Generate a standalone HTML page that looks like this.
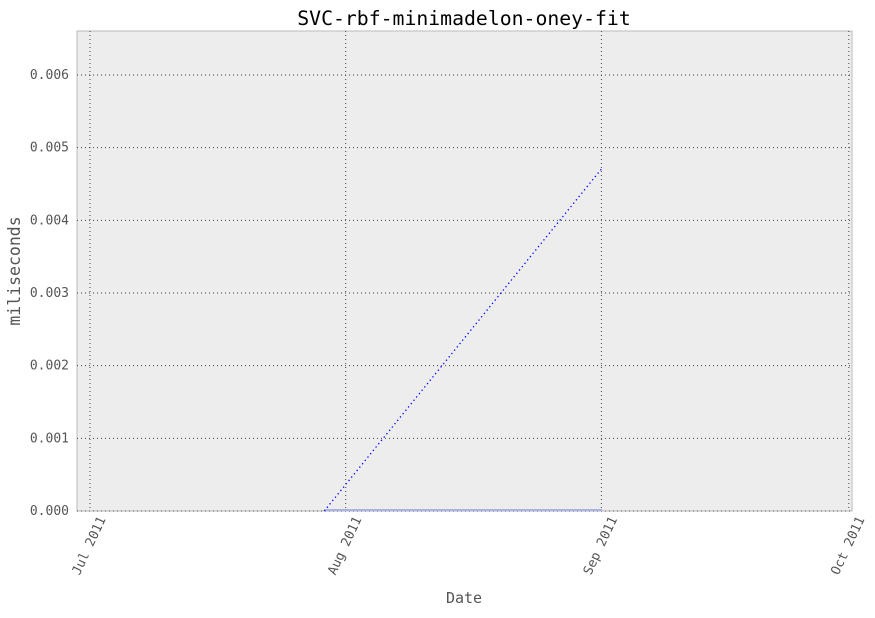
<!DOCTYPE html>
<html><head><meta charset="utf-8"><style>
body{margin:0;background:#fff;}
svg text{font-family:"DejaVu Sans Mono","Liberation Mono",monospace;}
</style></head><body>
<svg id="chart" width="875" height="613" xmlns="http://www.w3.org/2000/svg">
<text x="464" y="25" text-anchor="middle" font-size="19.8" fill="#000">SVC-rbf-minimadelon-oney-fit</text>
<rect x="77" y="31" width="775" height="480" fill="#ededed" stroke="#bbb"/>
<g id="grid"></g>
<g id="series"></g>
<text x="464" y="603" text-anchor="middle" font-size="15" fill="#555">Date</text>
<text transform="translate(20,271) rotate(-90)" text-anchor="middle" font-size="16.5" fill="#555">miliseconds</text>
</svg>
<script>
const xTickDays=[0,31,62,92];
const xTickLabels=["Jul 2011","Aug 2011","Sep 2011","Oct 2011"];
const yTicks=[0,0.001,0.002,0.003,0.004,0.005,0.006];
const yTickLabels=["0.000","0.001","0.002","0.003","0.004","0.005","0.006"];
const seriesDays=[28.4,62.1];
const seriesValues=[0,0.00472];
const baseValues=[0,0];
const NS="http://www.w3.org/2000/svg";
function X(d){return 90+d*8.248;}
function Y(v){return 511-v*72667;}
const grid=document.getElementById('grid'),ser=document.getElementById('series');
function mk(tag,attrs,parent){const e=document.createElementNS(NS,tag);for(const k in attrs)e.setAttribute(k,attrs[k]);parent.appendChild(e);return e;}
xTickDays.forEach((d,i)=>{
  const l=mk('line',{x1:X(d),x2:X(d),y1:31,y2:511,stroke:'#444','stroke-dasharray':'1,3'},grid);
  
  
  const t=mk('text',{transform:`translate(${X(d)+16},${519}) rotate(-65)`,'text-anchor':'end','font-size':'13',fill:'#555'},grid);
  t.textContent=xTickLabels[i];
  
  
});
yTicks.forEach((v,i)=>{
  const l=mk('line',{x1:77,x2:852,y1:Y(v),y2:Y(v),stroke:'#444','stroke-dasharray':'1,3'},grid);
  
  
  const t=mk('text',{x:69,y:Y(v)+4,'text-anchor':'end','font-size':'13',fill:'#555'},grid);
  t.textContent=yTickLabels[i];
  
  
});
const b=mk('polyline',{points:seriesDays.map((d,i)=>X(d)+','+(Y(baseValues[i])-1)).join(' '),fill:'none',stroke:'#aab0e8','stroke-width':2},ser);


const p=mk('polyline',{points:seriesDays.map((d,i)=>X(d)+','+Y(seriesValues[i])).join(' '),fill:'none',stroke:'#00f','stroke-width':1.3,'stroke-dasharray':'1.3,3'},ser);


</script>
</body></html>
